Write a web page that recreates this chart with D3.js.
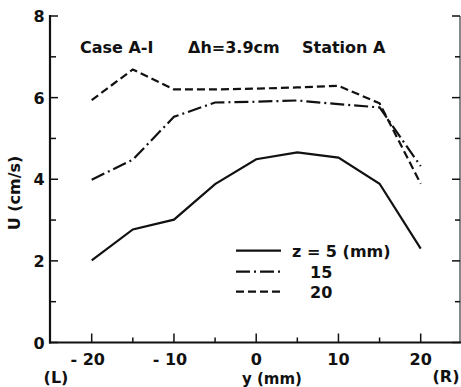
<!DOCTYPE html>
<html><head><meta charset="utf-8">
<script src="https://cdn.jsdelivr.net/npm/d3@7"></script>
<style>body{margin:0;background:#fff}svg{display:block}text{font-family:"DejaVu Sans",sans-serif;fill:#111}</style>
</head><body><svg id="c" width="461" height="387"></svg>
<script>
const yPos = [-20,-15,-10,-5,0,5,10,15,20];
const u5  = [2.01,2.77,3.01,3.88,4.49,4.66,4.53,3.89,2.30];
const u15 = [3.99,4.48,5.53,5.88,5.90,5.93,5.84,5.76,4.32];
const u20 = [5.94,6.69,6.20,6.20,6.22,6.25,6.29,5.86,3.89];
const seriesNames = ["z = 5 (mm)","15","20"];
const xTickLabels = [-20,-10,0,10,20];
const yTickLabels = [0,2,4,6,8];

const svg = d3.select("#c");
const x = d3.scaleLinear().domain([-20,20]).range([91.7,420.7]);
const y = d3.scaleLinear().domain([0,8]).range([342.5,16]);
const xLeft=50, xRight=460;

svg.append("line").attr("x1",xLeft).attr("x2",xLeft).attr("y1",y(8)-1).attr("y2",y(0)+1).attr("stroke","#111").attr("stroke-width",2.2);
svg.append("line").attr("x1",xLeft-1).attr("x2",xRight+1).attr("y1",y(0)).attr("y2",y(0)).attr("stroke","#111").attr("stroke-width",2.2);
svg.append("line").attr("x1",xRight).attr("x2",xRight).attr("y1",y(8)).attr("y2",y(0)).attr("stroke","#111").attr("stroke-width",1);

d3.range(0,9).forEach(v=>{
  const major = v%2===0;
  svg.append("line").attr("x1",xLeft).attr("x2",xLeft+(major?8:6)).attr("y1",y(v)).attr("y2",y(v)).attr("stroke","#111").attr("stroke-width",1.5);
  svg.append("line").attr("x1",xRight).attr("x2",xRight-(major?8:5)).attr("y1",y(v)).attr("y2",y(v)).attr("stroke","#111").attr("stroke-width",1.5);
});
yTickLabels.forEach(v=>{
  svg.append("text").attr("x",39).attr("y",y(v)+6).attr("text-anchor","middle").attr("font-size",16).attr("font-weight","bold").text(v);
});
d3.range(-20,21,5).forEach(v=>{
  const major = v%10===0;
  svg.append("line").attr("x1",x(v)).attr("x2",x(v)).attr("y1",y(0)).attr("y2",y(0)-(major?9:5)).attr("stroke","#111").attr("stroke-width",1.5);
});
xTickLabels.forEach(v=>{
  svg.append("text").attr("x",x(v)+(v<0?-4:0)).attr("y",365).attr("text-anchor","middle").attr("font-size",16).attr("font-weight","bold").text(v<0?"- "+Math.abs(v):v);
});
svg.append("text").attr("x",56).attr("y",383).attr("text-anchor","middle").attr("font-size",16).attr("font-weight","bold").text("(L)");
svg.append("text").attr("x",446).attr("y",382).attr("text-anchor","middle").attr("font-size",16).attr("font-weight","bold").text("(R)");
svg.append("text").attr("x",272).attr("y",384).attr("text-anchor","middle").attr("font-size",15).attr("font-weight","bold").text("y  (mm)");
svg.append("text").attr("transform","translate(20,193) rotate(-90)").attr("text-anchor","middle").attr("font-size",16).attr("font-weight","bold").text("U  (cm/s)");

svg.append("text").attr("x",80).attr("y",53).attr("font-size",16).attr("font-weight","bold").text("Case A-I");
svg.append("text").attr("x",188).attr("y",53).attr("font-size",16).attr("font-weight","bold").text("Δh=3.9cm");
svg.append("text").attr("x",302).attr("y",53).attr("font-size",16).attr("font-weight","bold").text("Station A");

const dashes = [null,"14,4,2,4","8,4"];
const data = [u5,u15,u20];
const line = d3.line().x(d=>x(d[0])).y(d=>y(d[1]));
data.forEach((s,i)=>{
  svg.append("path").attr("d",line(yPos.map((p,j)=>[p,s[j]]))).attr("fill","none").attr("stroke","#111").attr("stroke-width",2.2).attr("stroke-dasharray",dashes[i]);
});
const legY=[250.7,271.7,291.7];
const legTx=[292,310,310];
seriesNames.forEach((n,i)=>{
  svg.append("line").attr("x1",236).attr("x2",281).attr("y1",legY[i]).attr("y2",legY[i]).attr("stroke","#111").attr("stroke-width",2.2).attr("stroke-dasharray",dashes[i]);
  svg.append("text").attr("x",legTx[i]).attr("y",legY[i]+6).attr("font-size",16).attr("font-weight","bold").text(n);
});
</script></body></html>
